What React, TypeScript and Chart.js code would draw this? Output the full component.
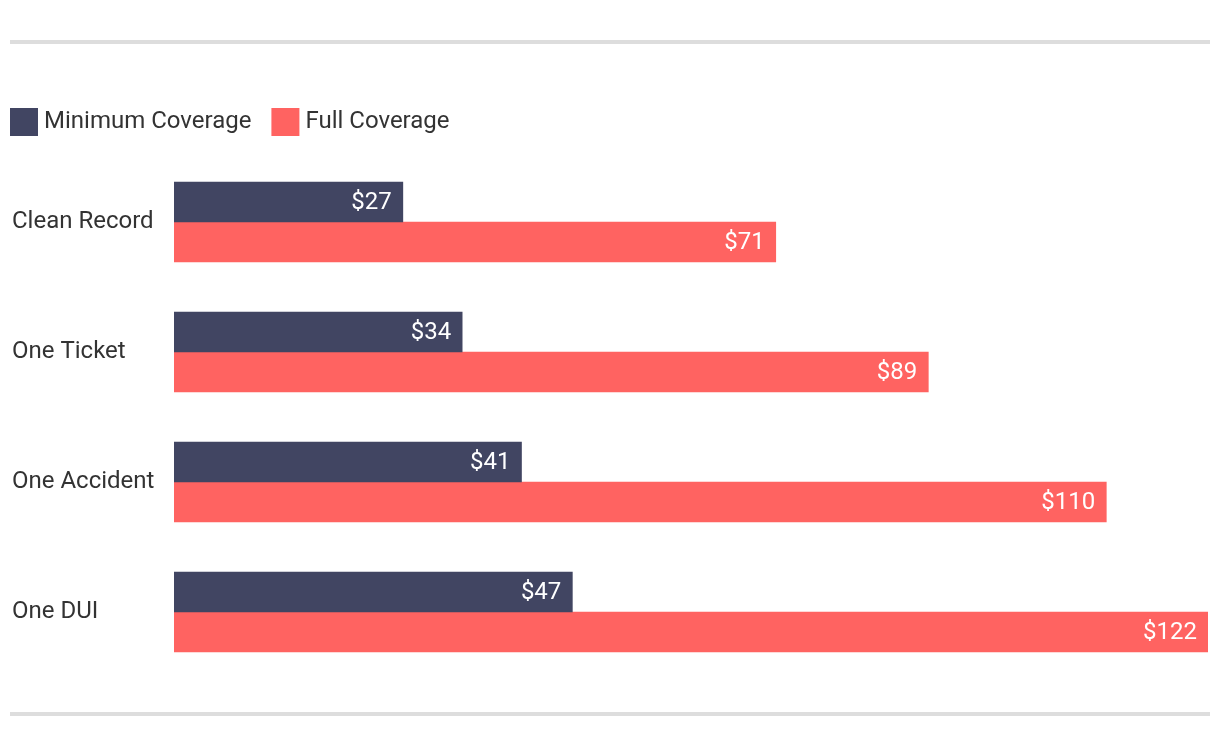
import React, { useEffect, useRef } from "react";
import { Chart, registerables } from "chart.js";

Chart.register(...registerables);

const categories = ["Clean Record", "One Ticket", "One Accident", "One DUI"];
const minimumCoverage = [27, 34, 41, 47];
const fullCoverage = [71, 89, 110, 122];
const seriesNames = ["Minimum Coverage", "Full Coverage"];
const seriesColors = ["#414562", "#FF6361"];

const FONT = "Roboto, 'Noto Sans', sans-serif";

const framePlugin = {
  id: "frame",
  beforeDraw(chart: any) {
    const ctx = chart.ctx;
    ctx.save();
    ctx.fillStyle = "#dddddd";
    ctx.fillRect(10, 40, 1200, 4);
    ctx.fillRect(10, 712, 1200, 4);
    // legend
    ctx.font = `24px ${FONT}`;
    ctx.textBaseline = "middle";
    ctx.textAlign = "left";
    let x = 10;
    chart.data.datasets.forEach((ds: any) => {
      ctx.fillStyle = ds.backgroundColor;
      ctx.fillRect(x, 108, 28, 28);
      ctx.fillStyle = "#333333";
      ctx.fillText(ds.label, x + 34, 122);
      x += 34 + ctx.measureText(ds.label).width + 20;
    });
    ctx.restore();
  },
};

const valueLabelPlugin = {
  id: "valueLabels",
  afterDatasetsDraw(chart: any) {
    const ctx = chart.ctx;
    ctx.save();
    ctx.font = `24px ${FONT}`;
    ctx.fillStyle = "#ffffff";
    ctx.textAlign = "right";
    ctx.textBaseline = "middle";
    chart.data.datasets.forEach((ds: any, di: number) => {
      const meta = chart.getDatasetMeta(di);
      meta.data.forEach((el: any, i: number) => {
        ctx.fillText(`$${ds.data[i]}`, el.x - 11, el.y + 1);
      });
    });
    ctx.restore();
  },
};

export default function App() {
  const ref = useRef<HTMLCanvasElement>(null);
  useEffect(() => {
    if (!ref.current) return;
    const chart = new Chart(ref.current, {
      type: "bar",
      data: {
        labels: categories,
        datasets: [
          { label: seriesNames[0], data: minimumCoverage, backgroundColor: seriesColors[0], barThickness: 40 },
          { label: seriesNames[1], data: fullCoverage, backgroundColor: seriesColors[1], barThickness: 40 },
        ],
      },
      options: {
        indexAxis: "y",
        animation: false,
        responsive: false,
        devicePixelRatio: 1,
        layout: { padding: { top: 157, bottom: 71, left: 12, right: 12 } },
        plugins: { legend: { display: false }, tooltip: { enabled: false } },
        scales: {
          x: { display: false, min: 0, max: 122 },
          y: {
            grid: { display: false },
            border: { display: false },
            ticks: {
              crossAlign: "far",
              color: "#333333",
              font: { family: FONT, size: 24 },
            },
            afterFit(scale: any) {
              scale.width = 162;
            },
          },
        },
      },
      plugins: [framePlugin, valueLabelPlugin],
    } as any);
    return () => chart.destroy();
  }, []);
  return (
    <div style={{ position: "absolute", left: 0, top: 0, width: 1220, height: 748, background: "#fff" }}>
      <canvas ref={ref} width={1220} height={748} />
    </div>
  );
}
